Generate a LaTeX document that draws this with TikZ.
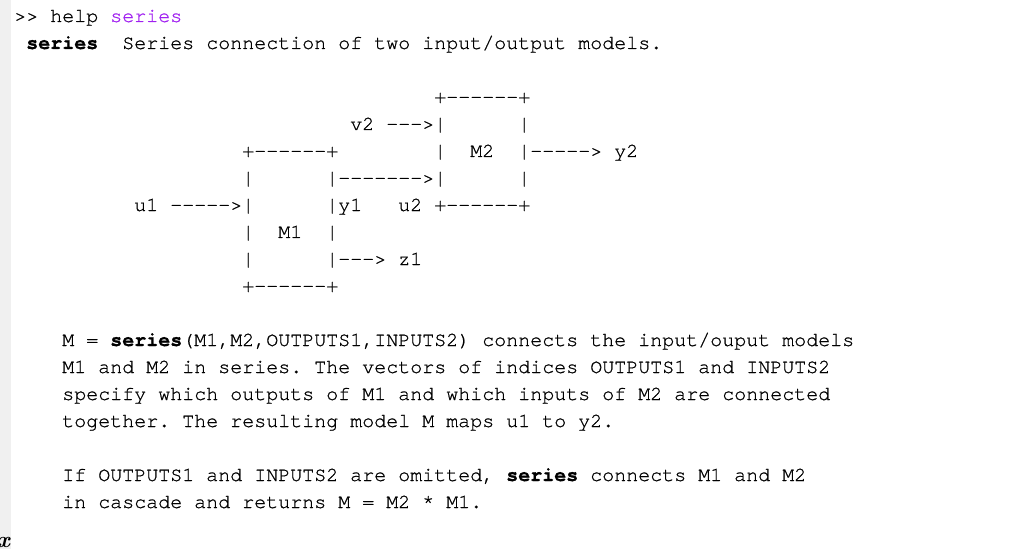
\documentclass[tikz,border=0pt]{standalone}
\usepackage{fontspec}
\setmonofont{TeX Gyre Cursor}[UprightFeatures={FakeBold=0.8},BoldFeatures={FakeBold=0.8}]
\usepackage{amsmath}

\definecolor{strpurple}{HTML}{A020F0}
\definecolor{panelgray}{HTML}{F0F0F0}

\tikzset{
  txtline/.style={anchor=base west, inner sep=0pt,
    font=\ttfamily\fontsize{15pt}{20pt}\selectfont},
}

\begin{document}
\begin{tikzpicture}[x=0.75pt,y=-0.75pt]
        \useasboundingbox (0,0) rectangle (1021,549);

        % Left panel strip (light gray)
        \fill[panelgray] (0,0) rectangle (11,549);

        % Command line and header
        \node[txtline] (cmd) at ({14+12*0},{22+27*0}) {>>~help~\textcolor{strpurple}{series}};
        \node[txtline] (head) at ({14+12*1},{22+27*1}) {\textbf{series}~~Series connection of two input/output models.};

        % Block diagram (column, row, text)
        \foreach \c/\r/\t/\n in {
            35/3/{+------+}/top2,
            28/4/{v2~--->|~~~~~~|}/vin,
            19/5/{+------+~~~~~~~~|~~M2~~|----->~y2}/top1,
            19/6/{|~~~~~~|------->|~~~~~~|}/link,
            10/7/{u1~----->|~~~~~~|y1~~~u2~+------+}/uin,
            19/8/{|~~M1~~|}/mid1,
            19/9/{|~~~~~~|--->~z1}/zout,
            19/10/{+------+}/bot1} {
            \node[txtline] (\n) at ({14+12*\c},{22+27*\r}) {\t};
        }

        % Description text
        \node[txtline] (p1) at ({14+12*4},{22+27*12}) {M = \textbf{series}(M1,M2,OUTPUTS1,INPUTS2) connects the input/ouput models};
        \node[txtline] (p2) at ({14+12*4},{22+27*13}) {M1 and M2 in series. The vectors of indices OUTPUTS1 and INPUTS2};
        \node[txtline] (p3) at ({14+12*4},{22+27*14}) {specify which outputs of M1 and which inputs of M2 are connected};
        \node[txtline] (p4) at ({14+12*4},{22+27*15}) {together. The resulting model M maps u1 to y2.};
        \node[txtline] (p5) at ({14+12*4},{22+27*17}) {If OUTPUTS1 and INPUTS2 are omitted, \textbf{series} connects M1 and M2};
        \node[txtline] (p6) at ({14+12*4},{22+27*18}) {in cascade and returns M = M2 * M1.};

        % fx prompt (cut at the left edge)
        \node[anchor=base east, inner sep=0pt,
              font=\fontsize{17pt}{17pt}\selectfont\bfseries\itshape] (fx) at (10,547) {fx};

\end{tikzpicture}
\end{document}
